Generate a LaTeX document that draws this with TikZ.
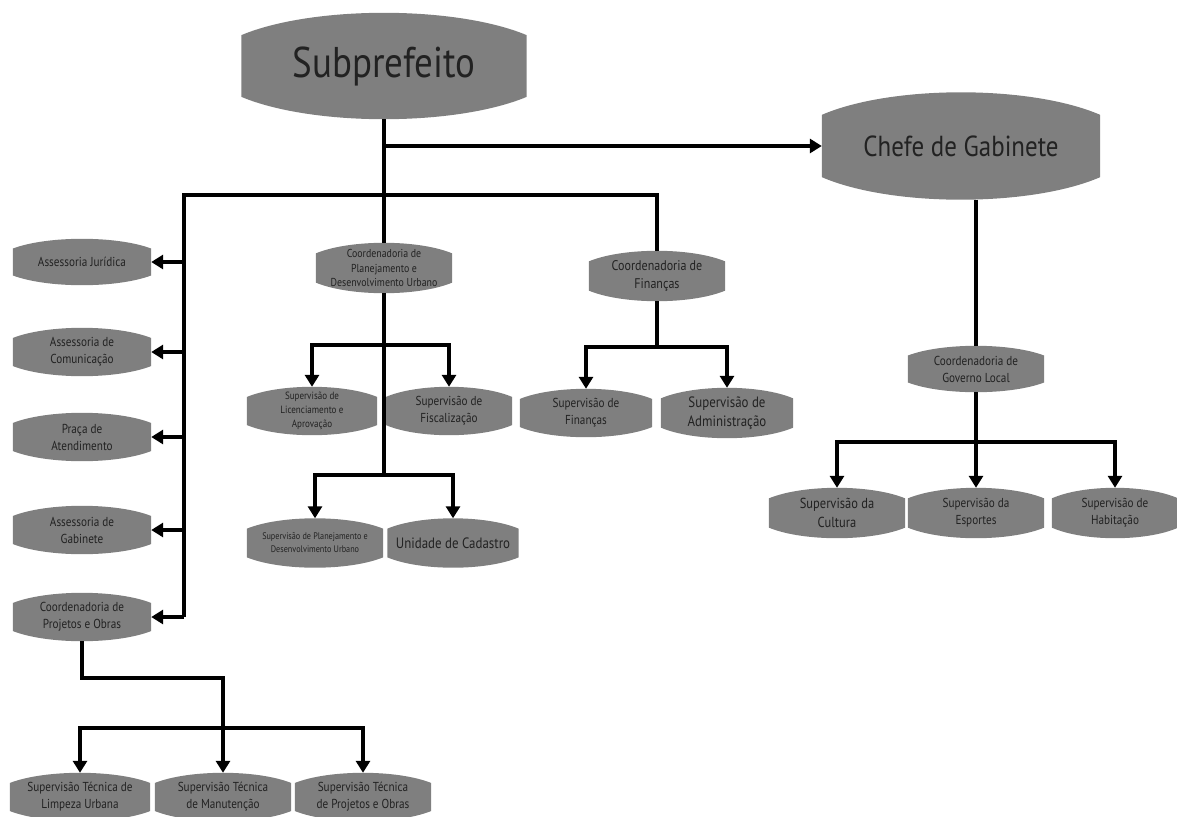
\documentclass[tikz,border=0pt]{standalone}
\usepackage{fontspec}
\usepackage{tikz}
\usetikzlibrary{arrows.meta,calc,backgrounds}
\newfontfamily\orgfont{PT Sans}[FakeStretch=0.86]
\definecolor{boxgray}{HTML}{7F7F7F}
\definecolor{orgtext}{HTML}{222222}
\tikzset{orgbox/.style={inner sep=1pt,minimum width=136pt,minimum height=48pt,align=center,
    text=orgtext,font=\orgfont\fontsize{13}{17}\selectfont},
  link/.style={line width=3.2pt,-{Triangle[width=14pt,length=12pt]}},
  bus/.style={line width=3.2pt}}

\begin{document}
\begin{tikzpicture}[x=1pt,y=-1pt]
  \useasboundingbox (0,0) rectangle (1177,816);

  \node[orgbox,minimum width=285pt,minimum height=106pt,font=\orgfont\fontsize{43}{48}\selectfont] (sub) at (384,66) {Subprefeito};
  \node[orgbox,minimum width=278pt,minimum height=107pt,font=\orgfont\fontsize{29}{34}\selectfont] (chefe) at (961,146) {Chefe de Gabinete};

  \node[orgbox,minimum width=138pt,minimum height=46pt] (ajur) at (82,262) {Assessoria Jurídica};
  \node[orgbox,minimum width=138pt] (acom) at (82,352) {Assessoria de\\Comunicação};
  \node[orgbox,minimum width=138pt] (praca) at (82,437) {Praça de\\Atendimento};
  \node[orgbox,minimum width=138pt] (agab) at (82,530) {Assessoria de\\Gabinete};
  \node[orgbox,minimum width=138pt] (cpo) at (82,617) {Coordenadoria de\\Projetos e Obras};

  \node[orgbox,minimum height=50pt,font=\orgfont\fontsize{11.5}{14.5}\selectfont] (cpdu) at (384,268) {Coordenadoria de\\Planejamento e\\Desenvolvimento Urbano};
  \node[orgbox,minimum height=50pt,font=\orgfont\fontsize{14}{18}\selectfont] (cfin) at (657,276) {Coordenadoria de\\Finanças};

  \node[orgbox,minimum width=130pt,font=\orgfont\fontsize{10.5}{14}\selectfont] (slic) at (312,411) {Supervisão de\\Licenciamento e\\Aprovação};
  \node[orgbox,minimum width=126pt] (sfis) at (449,411) {Supervisão de\\Fiscalização};
  \node[orgbox,minimum width=132pt] (sfin) at (586,413) {Supervisão de\\Finanças};
  \node[orgbox,minimum width=132pt,minimum height=50pt,font=\orgfont\fontsize{15}{19}\selectfont] (sadm) at (727,413) {Supervisão de\\Administração};

  \node[orgbox,minimum height=49pt,font=\orgfont\fontsize{9.5}{13}\selectfont] (spdu) at (315,543) {Supervisão de Planejamento e\\Desenvolvimento Urbano};
  \node[orgbox,minimum width=131pt,minimum height=49pt,font=\orgfont\fontsize{15}{19}\selectfont] (ucad) at (453,543) {Unidade de Cadastro};

  \node[orgbox,minimum height=46pt] (cgl) at (976,369) {Coordenadoria de\\Governo Local};
  \node[orgbox,minimum height=50pt,font=\orgfont\fontsize{14.5}{19}\selectfont] (cult) at (837,513) {Supervisão da\\Cultura};
  \node[orgbox,minimum height=50pt] (esp) at (976,513) {Supervisão da\\Esportes};
  \node[orgbox,minimum width=126pt,minimum height=50pt] (hab) at (1115,513) {Supervisão de\\Habitação};

  \node[orgbox,minimum width=140pt,minimum height=48pt] (tlim) at (80,797) {Supervisão Técnica de\\Limpeza Urbana};
  \node[orgbox,minimum width=136pt,minimum height=48pt] (tman) at (223,797) {Supervisão Técnica\\de Manutenção};
  \node[orgbox,minimum width=136pt,minimum height=48pt] (tpro) at (363,797) {Supervisão Técnica\\de Projetos e Obras};

  % lens shaped boxes behind the text
  \begin{scope}[on background layer]
    \foreach \b in {sub,chefe,ajur,acom,praca,agab,cpo,cpdu,cfin,slic,sfis,sfin,sadm,spdu,ucad,cgl,cult,esp,hab,tlim,tman,tpro}{
      \fill[boxgray] let \p1=(\b.north west), \p2=(\b.south east),
          \n1={0.21*(\y1-\y2)}, \n2={0.25*(\x2-\x1)} in
        (\x1,\y2+\n1) -- (\x1,\y1-\n1)
        .. controls (\x1+\n2,\y1+\n1/3) and (\x2-\n2,\y1+\n1/3) .. (\x2,\y1-\n1)
        -- (\x2,\y2+\n1)
        .. controls (\x2-\n2,\y2-\n1/3) and (\x1+\n2,\y2-\n1/3) .. (\x1,\y2+\n1) -- cycle;
    }
  \end{scope}

  \coordinate (bl) at (184,195);
  \coordinate (br) at (657,195);
  \coordinate (pa) at (384,345);
  \coordinate (pb) at (384,475);
  \coordinate (fa) at (657,347);
  \coordinate (ga) at (976,442);
  \coordinate (oa) at (223,678);
  \coordinate (ob) at (223,728);

  \draw[bus] (sub.south) -- (cpdu.north);
  \draw[bus] (cpdu.south) -- (pb);
  \draw[link] (sub.south |- chefe) -- (chefe.west);
  \draw[bus] (bl |- cpo) -- (bl) -- (br) -- (cfin.north);
  \foreach \b in {ajur,acom,praca,agab,cpo}
    \draw[link] (bl |- \b.east) -- (\b.east);

  \draw[link] (pa) -| (slic.north);
  \draw[link] (pa) -| (sfis.north);
  \draw[link] (pb) -| (spdu.north);
  \draw[link] (pb) -| (ucad.north);

  \draw[bus] (cfin.south) -- (fa);
  \draw[link] (fa) -| (sfin.north);
  \draw[link] (fa) -| (sadm.north);

  \draw[bus] (chefe.south -| cgl.north) -- (cgl.north);
  \draw[bus] (cgl.south) -- (ga);
  \draw[link] (ga) -| (cult.north);
  \draw[link] (ga) -- (esp.north);
  \draw[link] (ga) -| (hab.north);

  \draw[bus] (cpo.south) |- (oa) -- (ob);
  \draw[link] (ob) -| (tlim.north);
  \draw[link] (ob) -- (tman.north);
  \draw[link] (ob) -| (tpro.north);
\end{tikzpicture}
\end{document}
